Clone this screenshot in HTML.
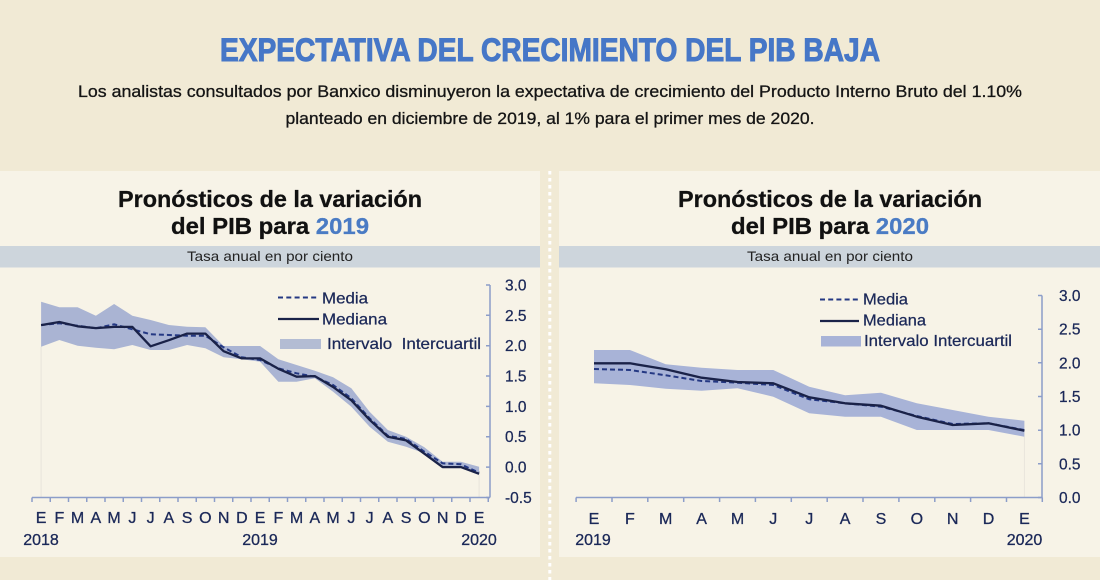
<!DOCTYPE html>
<html>
<head>
<meta charset="utf-8">
<style>
  html, body { margin: 0; padding: 0; background: #f1ead5; }
  svg { display: block; }
  .ax { font-family: "Liberation Sans", sans-serif; font-size: 15.5px; fill: #1b2858; stroke: #1b2858; stroke-width: 0.25; }
  .mo { font-family: "Liberation Sans", sans-serif; font-size: 16px; fill: #1b2858; text-anchor: middle; stroke: #1b2858; stroke-width: 0.3; }
  .lg { font-family: "Liberation Sans", sans-serif; font-size: 16px; fill: #1b2858; stroke: #1b2858; stroke-width: 0.25; }
</style>
</head>
<body>
<svg width="1100" height="580" viewBox="0 0 1100 580" xmlns="http://www.w3.org/2000/svg">
  <!-- backgrounds -->
  <rect x="0" y="0" width="1100" height="580" fill="#f1ead5"/>
  <rect x="0" y="171" width="540" height="386" fill="#f7f3e7"/>
  <rect x="559" y="171" width="541" height="386" fill="#f7f3e7"/>
  <line x1="549.8" y1="171" x2="549.8" y2="580" stroke="#ffffff" stroke-width="3" stroke-dasharray="3.5 3.5"/>

  <!-- header -->
  <text x="550" y="61" text-anchor="middle" font-family="Liberation Sans, sans-serif" font-weight="bold" font-size="32" fill="#4677c7" stroke="#4677c7" stroke-width="1" textLength="660" lengthAdjust="spacingAndGlyphs">EXPECTATIVA DEL CRECIMIENTO DEL PIB BAJA</text>
  <text x="550" y="97" text-anchor="middle" font-family="Liberation Sans, sans-serif" font-size="17" fill="#151515" stroke="#151515" stroke-width="0.3" textLength="944" lengthAdjust="spacingAndGlyphs">Los analistas consultados por Banxico disminuyeron la expectativa de crecimiento del Producto Interno Bruto del 1.10%</text>
  <text x="550" y="124" text-anchor="middle" font-family="Liberation Sans, sans-serif" font-size="17" fill="#151515" stroke="#151515" stroke-width="0.3" textLength="529" lengthAdjust="spacingAndGlyphs">planteado en diciembre de 2019, al 1% para el primer mes de 2020.</text>

  <!-- panel titles -->
  <text x="270" y="207" text-anchor="middle" font-family="Liberation Sans, sans-serif" font-weight="bold" font-size="23" fill="#111" stroke="#111" stroke-width="0.3" textLength="304" lengthAdjust="spacingAndGlyphs">Pronósticos de la variación</text>
  <text x="270" y="234" text-anchor="middle" font-family="Liberation Sans, sans-serif" font-weight="bold" font-size="23" fill="#111" stroke="#111" stroke-width="0.3" textLength="198" lengthAdjust="spacingAndGlyphs">del PIB para <tspan fill="#4a7bc4" stroke="#4a7bc4">2019</tspan></text>
  <text x="830" y="207" text-anchor="middle" font-family="Liberation Sans, sans-serif" font-weight="bold" font-size="23" fill="#111" stroke="#111" stroke-width="0.3" textLength="304" lengthAdjust="spacingAndGlyphs">Pronósticos de la variación</text>
  <text x="830" y="234" text-anchor="middle" font-family="Liberation Sans, sans-serif" font-weight="bold" font-size="23" fill="#111" stroke="#111" stroke-width="0.3" textLength="198" lengthAdjust="spacingAndGlyphs">del PIB para <tspan fill="#4a7bc4" stroke="#4a7bc4">2020</tspan></text>

  <!-- grey bands -->
  <rect x="0" y="246" width="540" height="21.5" fill="#cdd5dc"/>
  <rect x="559" y="246" width="541" height="21.5" fill="#cdd5dc"/>
  <text x="270" y="261" text-anchor="middle" font-family="Liberation Sans, sans-serif" font-size="14" fill="#222" textLength="166" lengthAdjust="spacingAndGlyphs">Tasa anual en por ciento</text>
  <text x="830" y="261" text-anchor="middle" font-family="Liberation Sans, sans-serif" font-size="14" fill="#222" textLength="166" lengthAdjust="spacingAndGlyphs">Tasa anual en por ciento</text>

  <!-- ================= LEFT CHART ================= -->
  <line x1="41.1" y1="346.7" x2="41.1" y2="497" stroke="#e8e4dc" stroke-width="1"/>
  <line x1="479.1" y1="473.3" x2="479.1" y2="497" stroke="#e8e4dc" stroke-width="1"/>
  <polygon fill="#aab4d3" points="41.1,301.7 59.35,307.3 77.6,307.3 95.85,315.7 114.1,304 132.35,315.7 150.6,320 168.85,325 187.1,326.7 205.35,327.3 223.6,346 241.85,346 260.1,346 278.35,359.3 296.6,365 314.85,370.7 333.1,377.3 351.35,388.3 369.6,411.7 387.85,430 406.1,436.7 424.35,447.3 442.6,461.7 460.85,461.7 479.1,466.7 479.1,473.3 460.85,466.7 442.6,466.7 424.35,453.3 406.1,446.7 387.85,441.7 369.6,426.7 351.35,406.7 333.1,391.7 314.85,378.3 296.6,381.7 278.35,381.7 260.1,361.7 241.85,359.3 223.6,357.3 205.35,348.3 187.1,345 168.85,350 150.6,350 132.35,345 114.1,349.3 95.85,347.7 77.6,345.7 59.35,340 41.1,346.7"/>
  <polyline fill="none" stroke="#243883" stroke-width="2" stroke-dasharray="5 3" points="41.1,325 59.35,323.3 77.6,325.7 95.85,328.3 114.1,324.3 132.35,329.3 150.6,334.3 168.85,335 187.1,335.7 205.35,335.7 223.6,347.3 241.85,357.3 260.1,360 278.35,368.3 296.6,373.3 314.85,376.7 333.1,385 351.35,398.3 369.6,418.3 387.85,435.7 406.1,439 424.35,451.7 442.6,463.3 460.85,464.3 479.1,472.7"/>
  <polyline fill="none" stroke="#1a2248" stroke-width="2.3" stroke-linejoin="round" points="41.1,325.1 59.35,322 77.6,326.3 95.85,328.1 114.1,326.9 132.35,326.9 150.6,346.3 168.85,340.2 187.1,333.6 205.35,333.6 223.6,351.2 241.85,358.4 260.1,358.4 278.35,368.8 296.6,376.7 314.85,376.1 333.1,387 351.35,400.3 369.6,419.8 387.85,436.8 406.1,440.4 424.35,453.7 442.6,467.1 460.85,467.1 479.1,473.8"/>

  <!-- left axes -->
  <g stroke="#8c9dc9" stroke-width="1.5" fill="none">
    <line x1="490" y1="285" x2="490" y2="497.5"/>
    <line x1="32" y1="497.5" x2="490" y2="497.5"/>
    <path d="M486 285H490M486 315.3H490M486 345.7H490M486 376H490M486 406.4H490M486 436.7H490M486 467.1H490M486 497.5H490"/>
    <path d="M32 497.5V502M50.25 497.5V502M68.5 497.5V502M86.75 497.5V502M105 497.5V502M123.25 497.5V502M141.5 497.5V502M159.75 497.5V502M178 497.5V502M196.25 497.5V502M214.5 497.5V502M232.75 497.5V502M251 497.5V502M269.25 497.5V502M287.5 497.5V502M305.75 497.5V502M324 497.5V502M342.25 497.5V502M360.5 497.5V502M378.75 497.5V502M397 497.5V502M415.25 497.5V502M433.5 497.5V502M451.75 497.5V502M470 497.5V502M488.25 497.5V502"/>
  </g>
  <g class="ax">
    <text x="505" y="290.5">3.0</text>
    <text x="505" y="320.8">2.5</text>
    <text x="505" y="351.2">2.0</text>
    <text x="505" y="381.5">1.5</text>
    <text x="505" y="411.9">1.0</text>
    <text x="505" y="442.2">0.5</text>
    <text x="505" y="472.6">0.0</text>
    <text x="505" y="503">-0.5</text>
  </g>
  <g class="mo">
    <text x="41.1" y="523">E</text><text x="59.35" y="523">F</text><text x="77.6" y="523">M</text><text x="95.85" y="523">A</text><text x="114.1" y="523">M</text><text x="132.35" y="523">J</text><text x="150.6" y="523">J</text><text x="168.85" y="523">A</text><text x="187.1" y="523">S</text><text x="205.35" y="523">O</text><text x="223.6" y="523">N</text><text x="241.85" y="523">D</text><text x="260.1" y="523">E</text><text x="278.35" y="523">F</text><text x="296.6" y="523">M</text><text x="314.85" y="523">A</text><text x="333.1" y="523">M</text><text x="351.35" y="523">J</text><text x="369.6" y="523">J</text><text x="387.85" y="523">A</text><text x="406.1" y="523">S</text><text x="424.35" y="523">O</text><text x="442.6" y="523">N</text><text x="460.85" y="523">D</text><text x="479.1" y="523">E</text>
    <text x="41" y="545">2018</text><text x="260" y="545">2019</text><text x="479" y="545">2020</text>
  </g>
  <!-- left legend -->
  <line x1="278" y1="297.5" x2="319" y2="297.5" stroke="#243883" stroke-width="2" stroke-dasharray="5 3.3"/>
  <line x1="278" y1="319" x2="319" y2="319" stroke="#1a2248" stroke-width="2.3"/>
  <rect x="280" y="339" width="41" height="10" fill="#b3bcd3"/>
  <text class="lg" x="322" y="303.5" textLength="46" lengthAdjust="spacingAndGlyphs">Media</text>
  <text class="lg" x="322" y="324.5" textLength="65" lengthAdjust="spacingAndGlyphs">Mediana</text>
  <text class="lg" x="327" y="349" textLength="154" lengthAdjust="spacingAndGlyphs">Intervalo&#160; Intercuartil</text>

  <!-- ================= RIGHT CHART ================= -->
  <line x1="1024.4" y1="436.7" x2="1024.4" y2="497" stroke="#e8e4dc" stroke-width="1"/>
  <polygon fill="#a8b3d7" points="594,350 629.9,350 665.7,364.3 701.6,367.7 737.5,370 773.3,370 809.2,386.7 845.1,395.3 880.9,392.7 916.8,403.3 952.7,410 988.5,416.7 1024.4,420.7 1024.4,436.7 988.5,430 952.7,430 916.8,430 880.9,416.7 845.1,416.7 809.2,413.3 773.3,396.7 737.5,388.3 701.6,390.7 665.7,388.7 629.9,385 594,383.3"/>
  <polyline fill="none" stroke="#243883" stroke-width="2" stroke-dasharray="5 3" points="594,369 629.9,370 665.7,375.3 701.6,381 737.5,382.7 773.3,385 809.2,399.3 845.1,403.3 880.9,406.7 916.8,416 952.7,424 988.5,423.3 1024.4,430"/>
  <polyline fill="none" stroke="#1a2248" stroke-width="2.3" stroke-linejoin="round" points="594,363.3 629.9,363.3 665.7,369.3 701.6,377.7 737.5,382 773.3,383.3 809.2,397.3 845.1,403.3 880.9,405.7 916.8,416.7 952.7,425 988.5,423.3 1024.4,430.7"/>

  <g stroke="#8c9dc9" stroke-width="1.5" fill="none">
    <line x1="1042" y1="295.5" x2="1042" y2="497.5"/>
    <line x1="576" y1="497.5" x2="1042" y2="497.5"/>
    <path d="M1038 295.5H1042M1038 329.2H1042M1038 362.8H1042M1038 396.5H1042M1038 430.2H1042M1038 463.8H1042M1038 497.5H1042"/>
    <path d="M576.1 497.5V502M612 497.5V502M647.8 497.5V502M683.7 497.5V502M719.6 497.5V502M755.4 497.5V502M791.3 497.5V502M827.2 497.5V502M863 497.5V502M898.9 497.5V502M934.8 497.5V502M970.6 497.5V502M1006.5 497.5V502M1042.3 497.5V502"/>
  </g>
  <g class="ax">
    <text x="1059" y="301">3.0</text>
    <text x="1059" y="334.7">2.5</text>
    <text x="1059" y="368.3">2.0</text>
    <text x="1059" y="402">1.5</text>
    <text x="1059" y="435.7">1.0</text>
    <text x="1059" y="469.3">0.5</text>
    <text x="1059" y="503">0.0</text>
  </g>
  <g class="mo">
    <text x="594" y="524">E</text><text x="629.9" y="524">F</text><text x="665.7" y="524">M</text><text x="701.6" y="524">A</text><text x="737.5" y="524">M</text><text x="773.3" y="524">J</text><text x="809.2" y="524">J</text><text x="845.1" y="524">A</text><text x="880.9" y="524">S</text><text x="916.8" y="524">O</text><text x="952.7" y="524">N</text><text x="988.5" y="524">D</text><text x="1024.4" y="524">E</text>
    <text x="593" y="545">2019</text><text x="1024.5" y="545">2020</text>
  </g>
  <!-- right legend -->
  <line x1="820" y1="299.5" x2="859" y2="299.5" stroke="#243883" stroke-width="2" stroke-dasharray="5 3.2"/>
  <line x1="820" y1="321" x2="859" y2="321" stroke="#1a2248" stroke-width="2.3"/>
  <rect x="821" y="336" width="40" height="10.5" fill="#a8b3d7"/>
  <text class="lg" x="863" y="304.5" textLength="45" lengthAdjust="spacingAndGlyphs">Media</text>
  <text class="lg" x="863" y="325.5" textLength="63" lengthAdjust="spacingAndGlyphs">Mediana</text>
  <text class="lg" x="864" y="346" textLength="148" lengthAdjust="spacingAndGlyphs">Intervalo Intercuartil</text>
</svg>
</body>
</html>
